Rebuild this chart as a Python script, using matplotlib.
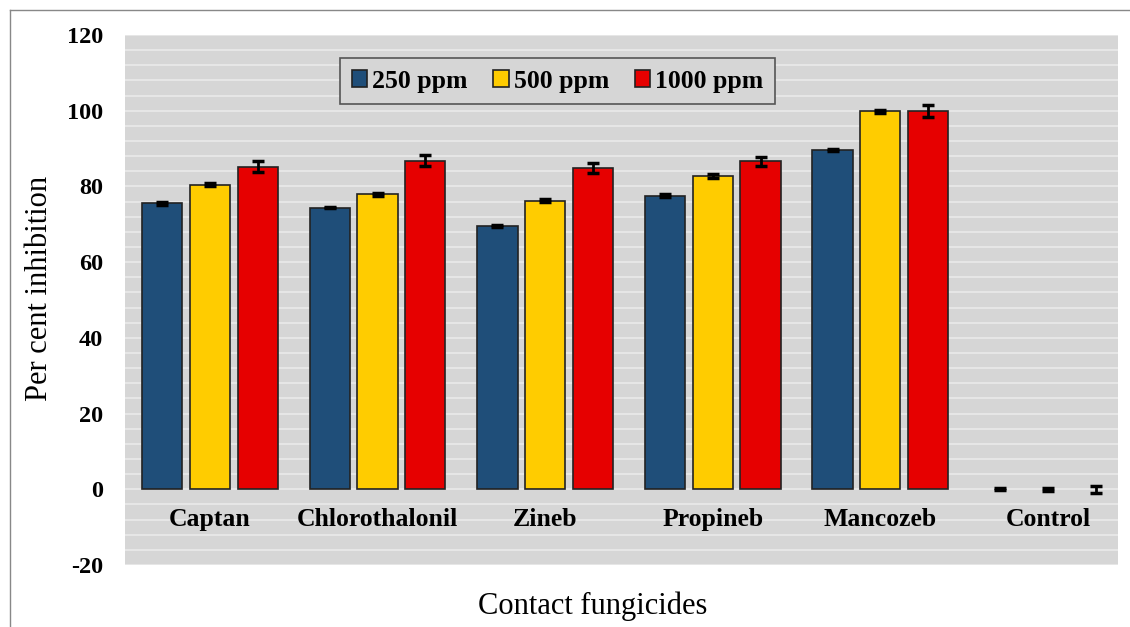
import matplotlib
matplotlib.use("Agg")
import matplotlib.pyplot as plt
import numpy as np
from matplotlib.lines import Line2D

categories = ["Captan", "Chlorothalonil", "Zineb", "Propineb", "Mancozeb", "Control"]
series_names = ["250 ppm", "500 ppm", "1000 ppm"]
vals_250 = [75.5, 74.4, 69.5, 77.6, 89.6, 0.0]
vals_500 = [80.4, 77.9, 76.2, 82.8, 99.9, 0.0]
vals_1000 = [85.2, 86.8, 84.9, 86.6, 99.9, 0.0]
err_250 = [0.3, 0.2, 0.3, 0.3, 0.3, 0.25]
err_500 = [0.4, 0.3, 0.4, 0.5, 0.4, 0.35]
err_1000 = [1.5, 1.5, 1.4, 1.2, 1.5, 1.0]
yticks = [-20, 0, 20, 40, 60, 80, 100, 120]

colors = ["#1F4E79", "#FFCC00", "#E60000"]

plt.rcParams['font.family'] = ['Liberation Serif', 'DejaVu Serif']

fig = plt.figure(figsize=(11.3, 6.27), dpi=100)
ax = fig.add_axes([125/1130, 1-565/627, (1118-125)/1130, (565-35)/627])
ax.set_facecolor("#d6d6d6")
for s in ax.spines.values():
    s.set_visible(False)

# light stripes every 4 units
for yv in np.arange(-20, 121, 4):
    ax.axhline(yv, color="#ececec", lw=1.1, zorder=0.5)

x = np.arange(len(categories))
w = 0.24
off = 0.285
data = [vals_250, vals_500, vals_1000]
errs = [err_250, err_500, err_1000]
for i, (v, e) in enumerate(zip(data, errs)):
    lws = [1.2 if val != 0 else 0 for val in v]
    ax.bar(x + (i-1)*off, v, width=w, color=colors[i], edgecolor="#222222",
           linewidth=lws, zorder=2, label=series_names[i])
    ax.errorbar(x + (i-1)*off, v, yerr=e, fmt='none', ecolor="black",
                elinewidth=2, capsize=4, capthick=2.5, zorder=3)

ax.set_xlim(-0.507, 5.418)
ax.set_ylim(-20, 120)
ax.set_yticks(yticks)
ax.set_yticklabels([str(t) for t in yticks], fontsize=17.5, fontweight="bold")
ax.tick_params(axis='y', length=0, pad=16)
ax.set_xticks([])

for xi, c in zip(x, categories):
    ax.text(xi, -8, c, ha="center", va="center", fontsize=18.5, fontweight="bold", zorder=4)

fig.text(40/1130, 1-288/627, "Per cent inhibition", rotation=90, ha="center", va="center", fontsize=22)
fig.text((478+707)/2/1130, 1-606/627, "Contact fungicides", ha="center", va="center", fontsize=22)

handles, labels = ax.get_legend_handles_labels()
leg = ax.legend(handles, labels, loc="upper left", bbox_to_anchor=((340-125)/993, (565-58)/530),
                ncol=3, frameon=True, fancybox=False, edgecolor="#555555",
                facecolor="#d6d6d6", framealpha=1,
                prop={'family': 'Liberation Serif', 'weight': 'bold', 'size': 18.5},
                handlelength=0.6, handleheight=0.6, handletextpad=0.2,
                columnspacing=1.0, borderpad=0.45, borderaxespad=0)
leg.get_frame().set_linewidth(1.2)
for p in leg.get_patches():
    p.set_linewidth(1.2)

fig.add_artist(Line2D([10/1130, 10/1130], [0, 1-10/627], transform=fig.transFigure, color="#888888", lw=1))
fig.add_artist(Line2D([10/1130, 1], [1-10/627, 1-10/627], transform=fig.transFigure, color="#888888", lw=1))

fig.savefig("out.png", dpi=100)
